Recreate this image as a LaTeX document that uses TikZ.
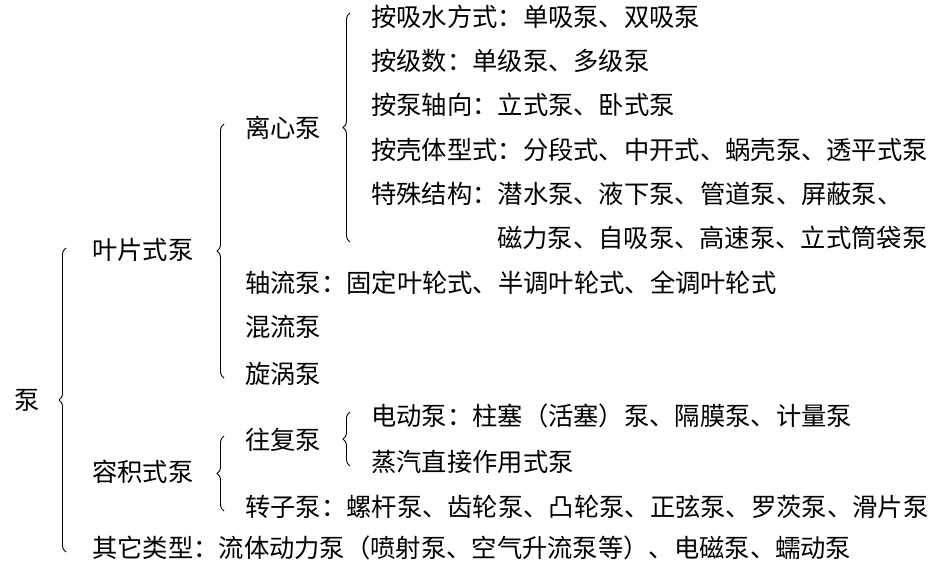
\documentclass[tikz,border=0pt]{standalone}
\usepackage{fontspec}
\setmainfont{Noto Sans CJK SC}
\usetikzlibrary{decorations.pathreplacing}
\tikzset{
  item/.style={anchor=west,inner sep=0pt,font=\fontsize{25.3}{30}\selectfont},
  brace/.style={decorate,decoration={brace,amplitude=7pt},line width=0.9pt}
}
\begin{document}
\begin{tikzpicture}[x=1pt,y=1pt]
  \useasboundingbox (0,0) rectangle (945,-567);
  % levels
  \node[item] (beng) at (14,-400) {泵};
  \node[item] (yepian) at (92,-250) {叶片式泵};
  \node[item] (rongji) at (92,-472) {容积式泵};
  \node[item] (qita) at (92,-548) {其它类型：流体动力泵（喷射泵、空气升流泵等）、电磁泵、蠕动泵};
  \node[item] (lixin) at (245,-128) {离心泵};
  \node[item] (zhouliu) at (245,-283) {轴流泵：固定叶轮式、半调叶轮式、全调叶轮式};
  \node[item] (hunliu) at (245,-327) {混流泵};
  \node[item] (xuanwo) at (245,-374) {旋涡泵};
  \node[item] (wangfu) at (245,-440) {往复泵};
  \node[item] (zhuanzi) at (245,-507) {转子泵：螺杆泵、齿轮泵、凸轮泵、正弦泵、罗茨泵、滑片泵};
  \node[item] (xishui) at (371,-17) {按吸水方式：单吸泵、双吸泵};
  \node[item] (jishu) at (371,-61) {按级数：单级泵、多级泵};
  \node[item] (zhouxiang) at (371,-105) {按泵轴向：立式泵、卧式泵};
  \node[item] (keti) at (371,-150) {按壳体型式：分段式、中开式、蜗壳泵、透平式泵};
  \node[item] (teshu) at (371,-194) {特殊结构：潜水泵、液下泵、管道泵、屏蔽泵、};
  \node[item] (teshu2) at (497,-238) {磁力泵、自吸泵、高速泵、立式筒袋泵};
  \node[item] (diandong) at (371,-416) {电动泵：柱塞（活塞）泵、隔膜泵、计量泵};
  \node[item] (zhengqi) at (371,-462) {蒸汽直接作用式泵};
  % braces
  \draw[brace] (66,-552) -- (66,-248);
  \draw[brace] (224,-378) -- (224,-124);
  \draw[brace] (350,-242) -- (350,-13);
  \draw[brace] (224,-511) -- (224,-436);
  \draw[brace] (350,-466) -- (350,-412);
\end{tikzpicture}
\end{document}
